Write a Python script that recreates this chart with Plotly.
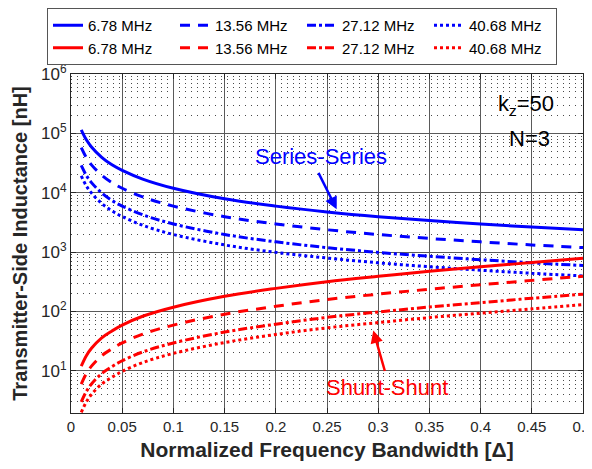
import plotly.graph_objects as go

# Normalized frequency bandwidth samples
delta = [0.01, 0.015, 0.02, 0.03, 0.04, 0.05, 0.07, 0.1, 0.15, 0.2, 0.25, 0.3, 0.35, 0.4, 0.45, 0.5]

freq_labels = ["6.78 MHz", "13.56 MHz", "27.12 MHz", "40.68 MHz"]

# Series-Series transmitter-side inductance [nH]
ss_678 = [115000, 78000, 59000, 39500, 29500, 23800, 17000, 11900, 7900, 5950, 4750, 3950, 3400, 2970, 2640, 2380]
ss_1356 = [57500, 39000, 29500, 19800, 14800, 11900, 8500, 5950, 3950, 2980, 2380, 1980, 1700, 1490, 1320, 1190]
ss_2712 = [28800, 19500, 14800, 9900, 7400, 5950, 4250, 2980, 1980, 1490, 1190, 990, 850, 745, 660, 595]
ss_4068 = [19200, 13000, 9900, 6600, 4950, 3970, 2830, 1980, 1320, 990, 795, 660, 567, 496, 440, 397]

# Shunt-Shunt transmitter-side inductance [nH]
sh_678 = [12, 18, 24, 36, 47, 59, 83, 118, 180, 245, 318, 392, 475, 565, 668, 785]
sh_1356 = [6, 9, 12, 18, 23.5, 29.5, 41.5, 59, 90, 122, 159, 196, 237, 282, 334, 392]
sh_2712 = [3, 4.5, 6, 9, 11.8, 14.8, 20.8, 29.5, 45, 61, 79.5, 98, 119, 141, 167, 196]
sh_4068 = [2, 3, 4, 6, 7.8, 9.8, 13.8, 19.7, 30, 41, 53, 65, 79, 94, 111, 131]

x_ticks = [0, 0.05, 0.1, 0.15, 0.2, 0.25, 0.3, 0.35, 0.4, 0.45, 0.5]
x_ticktext = ["0", "0.05", "0.1", "0.15", "0.2", "0.25", "0.3", "0.35", "0.4", "0.45", "0.5"]
y_ticks = [10, 100, 1000, 10000, 100000, 1000000]
y_ticktext = ["10<sup>1</sup>", "10<sup>2</sup>", "10<sup>3</sup>", "10<sup>4</sup>",
              "10<sup>5</sup>", "10<sup>6</sup>"]

dashes = ["solid", "10px,8px", "9px,3px,3px,3px", "3px,3px"]
BLUE = "#0000FF"
RED = "#FF0000"
FONT = "Liberation Sans, Arial, sans-serif"
TXT = "#262626"

# The page body adds an 8px offset, so the figure is 8px smaller on each axis
W, H = 584, 461

fig = go.Figure()
for vals, lab, d in zip([ss_678, ss_1356, ss_2712, ss_4068], freq_labels, dashes):
    fig.add_trace(go.Scatter(x=delta, y=vals, mode="lines", name=lab,
                             line=dict(color=BLUE, width=3, dash=d, shape="spline")))
for vals, lab, d in zip([sh_678, sh_1356, sh_2712, sh_4068], freq_labels, dashes):
    fig.add_trace(go.Scatter(x=delta, y=vals, mode="lines", name=lab,
                             line=dict(color=RED, width=3, dash=d, shape="spline")))

fig.update_layout(
    width=W, height=H,
    margin=dict(l=63, r=9, t=66, b=56, autoexpand=False),
    paper_bgcolor="white", plot_bgcolor="white",
    font=dict(family=FONT, size=15, color=TXT),
    showlegend=True,
    legend=dict(orientation="h", xref="container", yref="container",
                x=39 / W, y=1.0, xanchor="left", yanchor="top",
                bordercolor="#555555", borderwidth=1, bgcolor="white",
                font=dict(family=FONT, size=15, color="black"),
                entrywidth=82, entrywidthmode="pixels",
                tracegroupgap=0, itemwidth=30),
    xaxis=dict(range=[0, 0.5], tickvals=x_ticks, ticktext=x_ticktext,
               showgrid=True, gridcolor="#5a5a5a", gridwidth=1,
               showline=True, linecolor="#262626", linewidth=1, mirror="allticks",
               ticks="inside", ticklen=5, tickcolor="#262626",
               zeroline=False, automargin=False, ticklabeloverflow="allow",
               tickfont=dict(size=15, color=TXT),
               title=dict(text="<b>Normalized Frequency Bandwidth [Δ]</b>",
                          font=dict(size=21, color=TXT), standoff=8)),
    yaxis=dict(type="log", range=[0.29, 6], tickvals=y_ticks, ticktext=y_ticktext,
               showgrid=True, gridcolor="#5a5a5a", gridwidth=1,
               minor=dict(dtick="D1", showgrid=True, griddash="1px,5px",
                          gridcolor="#4a4a4a", gridwidth=1, ticks=""),
               showline=True, linecolor="#262626", linewidth=1, mirror="allticks",
               ticks="inside", ticklen=5, tickcolor="#262626",
               zeroline=False, automargin=False,
               tickfont=dict(size=17, color=TXT),
               title=dict(text="<b>Transmitter-Side Inductance [nH]</b>",
                          font=dict(size=20, color=TXT), standoff=8)),
)

annotations = [
    dict(x=0.2595, y=3.72, xref="x", yref="y", ax=-19, ay=-38,
         showarrow=True, arrowhead=2, arrowsize=1, arrowwidth=2.5, arrowcolor=BLUE, text=""),
    dict(x=0.244, y=4.604, xref="x", yref="y", text="Series-Series", showarrow=False,
         font=dict(size=22, color=BLUE)),
    dict(x=0.2952, y=1.68, xref="x", yref="y", ax=12, ay=42,
         showarrow=True, arrowhead=2, arrowsize=1, arrowwidth=2.5, arrowcolor=RED, text=""),
    dict(x=0.309, y=0.722, xref="x", yref="y", text="Shunt-Shunt", showarrow=False,
         font=dict(size=22, color=RED)),
    dict(x=0.444, y=5.48, xref="x", yref="y", text="k<sub>z</sub>=50", showarrow=False,
         font=dict(size=22, color="black")),
    dict(x=0.448, y=4.92, xref="x", yref="y", text="N=3", showarrow=False,
         font=dict(size=22, color="black")),
]
fig.update_layout(annotations=annotations)

fig.write_html("out.html")
